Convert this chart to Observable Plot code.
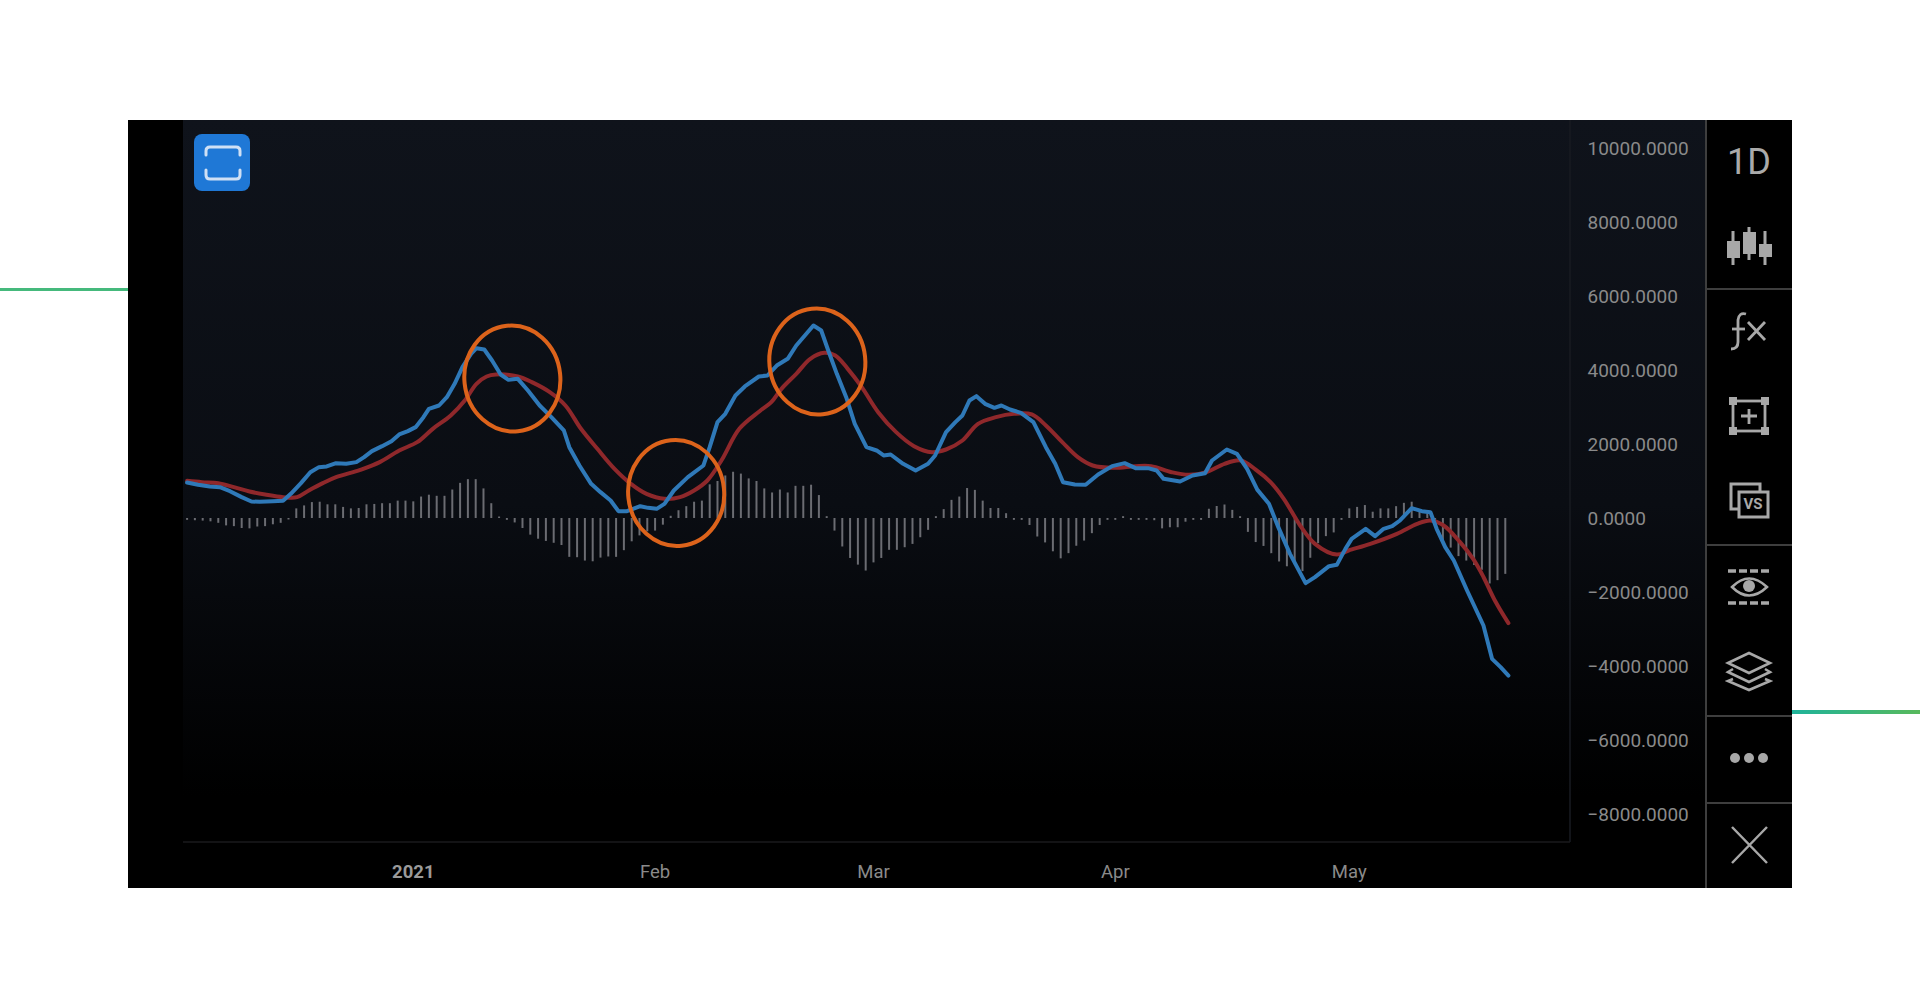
<!DOCTYPE html>
<html>
<head>
<meta charset="utf-8">
<script src="https://cdn.jsdelivr.net/npm/d3@7"></script>
<script src="https://cdn.jsdelivr.net/npm/@observablehq/plot@0.6"></script>
<style>
html,body{margin:0;padding:0;background:#fff;overflow:hidden;width:1920px;height:1008px;}
.box{position:absolute;}
#chart{position:absolute;left:0;top:0;}
#deco{position:absolute;left:0;top:0;pointer-events:none;}
</style>
</head>
<body>
<div class="box" style="left:0;top:288px;width:128px;height:3px;background:#45b97c"></div>
<div class="box" style="left:1792px;top:710px;width:128px;height:4px;background:linear-gradient(90deg,#1fb39a,#58b95c)"></div>
<div class="box" style="left:128px;top:120px;width:1664px;height:768px;background:#000"></div>
<div class="box" style="left:183px;top:120px;width:1523px;height:768px;background:linear-gradient(180deg,#0f131b 0%,#0a0d13 50%,#000 88%)"></div>
<div class="box" style="left:1706px;top:120px;width:86px;height:768px;background:#000"></div>
<div id="chart"></div>
<svg id="deco" width="1920" height="1008" xmlns="http://www.w3.org/2000/svg">
  <g stroke="#3e3e3e" stroke-width="2" fill="none">
    <line x1="1706" y1="120" x2="1706" y2="888"/>
    <line x1="1706" y1="289" x2="1792" y2="289"/>
    <line x1="1706" y1="545" x2="1792" y2="545"/>
    <line x1="1706" y1="716" x2="1792" y2="716"/>
    <line x1="1706" y1="803" x2="1792" y2="803"/>
  </g>
  <g stroke-width="1.5" fill="none">
    <line x1="1570" y1="120" x2="1570" y2="842" stroke="#181b22"/>
    <line x1="183" y1="842" x2="1570" y2="842" stroke="#1a1a1c"/>
  </g>
  <!-- capture button -->
  <rect x="194" y="134" width="56" height="57" rx="8" fill="#1f78d6"/>
  <path d="M206 155v-4q0-4 4-4h26q4 0 4 4v4M206 170v5q0 4 4 4h26q4 0 4-4v-5" fill="none" stroke="#cfe0f5" stroke-width="3" stroke-linecap="round"/>
  <!-- 1D -->
  <text x="1749" y="174" text-anchor="middle" font-family="Roboto" font-weight="400" font-size="36" fill="#aaaaaa">1D</text>
  <!-- candles -->
  <g fill="#a8a8a8" stroke="#a8a8a8">
    <line x1="1733" y1="231" x2="1733" y2="265" stroke-width="3"/><rect x="1727" y="241" width="13" height="17" stroke="none"/>
    <line x1="1749" y1="227" x2="1749" y2="260" stroke-width="3"/><rect x="1743" y="232" width="13" height="22" stroke="none"/>
    <line x1="1765" y1="231" x2="1765" y2="265" stroke-width="3"/><rect x="1759" y="244" width="13" height="13" stroke="none"/>
  </g>
  <!-- fx -->
  <path d="M1746 314q-7-2-8 6v22q0 7-7 7" fill="none" stroke="#a8a8a8" stroke-width="2.8"/>
  <line x1="1732" y1="329" x2="1745" y2="329" stroke="#a8a8a8" stroke-width="2.8"/>
  <path d="M1748 322l17 18M1765 322l-17 18" fill="none" stroke="#a8a8a8" stroke-width="2.8"/>
  <!-- box plus -->
  <g fill="#a8a8a8" stroke="none">
    <rect x="1729" y="397" width="8" height="8"/><rect x="1761" y="397" width="8" height="8"/><rect x="1729" y="427" width="8" height="8"/><rect x="1761" y="427" width="8" height="8"/>
  </g>
  <rect x="1733" y="401" width="32" height="30" fill="none" stroke="#a8a8a8" stroke-width="2.8"/>
  <path d="M1749 409v15M1741 416h16" stroke="#a8a8a8" stroke-width="2.8"/>
  <!-- VS -->
  <rect x="1731" y="484" width="29" height="25" fill="none" stroke="#a8a8a8" stroke-width="3"/>
  <rect x="1739" y="492" width="29" height="25" fill="#000" stroke="#a8a8a8" stroke-width="3"/>
  <text x="1753" y="509" text-anchor="middle" font-family="Roboto" font-weight="700" font-size="15" fill="#a8a8a8">VS</text>
  <!-- eye -->
  <path d="M1728 571h42M1728 603h42" stroke="#a8a8a8" stroke-width="3.5" stroke-dasharray="8 3"/>
  <path d="M1732 587q17-17 35 0q-18 17-35 0z" fill="none" stroke="#a8a8a8" stroke-width="2.5"/>
  <circle cx="1749" cy="586" r="6" fill="#a8a8a8"/>
  <!-- layers -->
  <g fill="none" stroke="#a8a8a8" stroke-width="2.6">
    <path d="M1728 663l21-10l21 10l-21 10z"/>
    <path d="M1733 669l-5 3l21 10l21-10l-5-3"/>
    <path d="M1733 679l-5 2l21 9l21-9l-5-2"/>
  </g>
  <!-- dots -->
  <circle cx="1735" cy="758" r="5" fill="#a8a8a8"/><circle cx="1749" cy="758" r="5" fill="#a8a8a8"/><circle cx="1763" cy="758" r="5" fill="#a8a8a8"/>
  <!-- close -->
  <path d="M1732 827l35 36M1767 827l-35 36" stroke="#a8a8a8" stroke-width="2.5"/>
</svg>
<script>
const startDay = Date.UTC(2020, 11, 3);
const dayToDate = d => new Date(startDay + d * 864e5);

const yTicks = [10000, 8000, 6000, 4000, 2000, 0, -2000, -4000, -6000, -8000];
const yDomain = [-8757, 10757];
const xDomainDays = [-0.46, 177.36];
const yearTick = [new Date(Date.UTC(2021, 0, 1))];
const monthTicks = [new Date(Date.UTC(2021, 1, 1)), new Date(Date.UTC(2021, 2, 1)), new Date(Date.UTC(2021, 3, 1)), new Date(Date.UTC(2021, 4, 1))];

// Histogram, one value per daily bar from the first bar
const histValues = [
  -50,-60,-70,-90,-130,-200,-220,-270,-280,-230,-220,-170,-130,-40,260,340,430,440,370,370,
  300,260,270,370,380,400,400,470,470,450,580,630,600,600,770,950,1050,1050,800,400,
  40,-50,-120,-270,-450,-560,-620,-670,-730,-1050,-1060,-1150,-1170,-1070,-1040,-1050,-870,-630,-470,-360,
  -340,-180,60,210,320,440,470,910,1000,1150,1250,1200,1070,1000,800,690,770,690,870,870,
  900,620,50,-340,-770,-1080,-1260,-1420,-1200,-1080,-860,-860,-790,-700,-520,-320,50,240,490,580,
  810,760,470,270,270,130,-50,-50,-190,-500,-660,-900,-1090,-950,-750,-610,-410,-190,-50,-50,
  50,-50,-50,-50,-60,-280,-250,-250,-100,-50,-50,250,325,365,220,50,-375,-650,-755,-950,
  -1175,-1305,-1250,-1435,-1075,-680,-490,-390,-50,260,300,350,170,260,260,320,410,440,170,120,
  -100,-610,-800,-1030,-1150,-1270,-1400,-1770,-1680,-1510
];

// MACD line, blue: day from the first bar, then value
const macdDays = [
  0,1.4,2.9,4.2,5.5,7,8.25,9.3,11,12.3,13.3,14.6,15.8,16.9,17.9,19.1,20.4,21.7,22.7,23.7,
  25,26.2,27.2,28.3,29.3,30.3,31,32.3,33.3,34.3,35.3,36.4,37.1,38.1,39.1,40.2,41.2,42.4,43.7,45.2,
  46.7,48.3,49,50.3,51.8,53,54.3,55.3,56.4,58.1,59.1,60.2,61.2,62.4,64.2,66.2,67,68,69,70.3,
  71.5,73.3,74.4,75.6,77,78.1,79.2,80.3,81.3,82.2,83.3,84.5,85.6,87.1,88.4,89.3,90.2,91.8,93.4,95,
  95.9,97.3,98.5,99.4,100.3,101.2,102.3,103.5,104.4,105.5,106.9,108.5,110.1,111.3,112.3,113.8,115.2,116.8,118.6,120.2,
  121.6,123.2,124.3,125.2,127.3,128.9,130.5,131.4,133.3,134.6,135.9,137.2,138.7,139.9,141.4,143.4,144.6,146.4,147.4,148.5,
  149.3,151.1,152.3,153.4,154.5,155.5,157,158.3,159.4,160.2,161.3,162.4,164.1,166.2,167.3,168.4,169.4
];
const macdValues = [
  973,910,865,847,739,577,460,450,468,478,667,955,1252,1388,1406,1496,1478,1523,1658,1820,
  1955,2090,2271,2361,2469,2739,2964,3054,3280,3640,4090,4451,4604,4568,4271,3892,3748,3775,3460,3054,
  2739,2379,1928,1433,937,712,487,198,198,333,288,261,396,757,1117,1433,1928,2604,2829,3325,
  3568,3838,3865,4135,4316,4676,4946,5217,5082,4541,3910,3280,2559,1928,1838,1703,1730,1478,1297,1478,
  1703,2334,2604,2784,3190,3307,3099,2991,3054,2946,2856,2604,1928,1478,982,919,910,1189,1415,1496,
  1360,1360,1297,1072,1000,1162,1225,1568,1865,1748,1340,780,400,-234,-955,-1748,-1586,-1288,-1252,-820,
  -550,-279,-478,-279,-207,-54,279,198,171,-279,-775,-1135,-1946,-2892,-3793,-4018,-4244
];

// Signal line, dark red
const signalDays = [
  0,1.9,4,6,8,10,12.3,14.1,15.6,17.4,19.1,22.2,24.7,27.2,29.5,31.5,33.8,35.6,37.1,38.4,
  39.6,42.4,44.2,46.5,48.5,50.5,52.6,54.8,56.9,58.9,61.2,63.2,65,66.7,68.5,70.8,73.4,74.9,76.2,78.1,
  79.9,81.7,83.1,84.7,86.5,88.6,90.9,93.2,95.5,97.3,99.4,101.4,103.7,106,108.3,110.1,112.2,114.2,116.1,118.8,
  121.6,123.6,126.2,128.4,130.7,133,135.1,137,138.9,140.6,142.7,144.6,147.4,148.9,151.7,155.1,157.7,159.4,161.1,163.2,
  164.9,166.2,167.7,169.4
];
const signalValues = [
  1018,982,955,847,730,649,577,577,757,955,1117,1315,1523,1838,2063,2424,2784,3190,3640,3838,
  3892,3838,3685,3415,3054,2424,1883,1342,937,667,532,577,757,1027,1568,2424,2900,3145,3505,3910,
  4316,4478,4406,4045,3550,2874,2334,1955,1793,1865,2108,2559,2739,2829,2811,2514,2063,1658,1433,1369,
  1415,1415,1252,1180,1252,1478,1568,1320,982,532,-189,-685,-973,-865,-685,-414,-144,-54,-189,-640,
  -1100,-1580,-2230,-2829
];

// Orange highlight circles
const circleDays = [41.7, 62.7, 80.8];
const circleValues = [3784, 690, 4244];

const hist = histValues.map((v, i) => ({date: dayToDate(i), v}));
const macd = macdValues.map((v, i) => ({date: dayToDate(macdDays[i]), v}));
const signal = signalValues.map((v, i) => ({date: dayToDate(signalDays[i]), v}));
const circles = circleValues.map((v, i) => ({date: dayToDate(circleDays[i]), v}));

const ellipse = {
  draw(ctx, size) {
    const r = Math.sqrt(size / Math.PI), rx = r * 0.95, ry = r * 1.05, k = 0.5523;
    ctx.moveTo(rx, 0);
    ctx.bezierCurveTo(rx, k * ry, k * rx, ry, 0, ry);
    ctx.bezierCurveTo(-k * rx, ry, -rx, k * ry, -rx, 0);
    ctx.bezierCurveTo(-rx, -k * ry, -k * rx, -ry, 0, -ry);
    ctx.bezierCurveTo(k * rx, -ry, rx, -k * ry, rx, 0);
    ctx.closePath();
  }
};

const monthFormat = d3.utcFormat("%b");
const chart = Plot.plot({
  width: 1920,
  height: 1008,
  marginLeft: 183,
  marginRight: 350,
  marginTop: 120,
  marginBottom: 166,
  style: {background: "transparent", fontFamily: "Roboto"},
  x: {type: "utc", domain: xDomainDays.map(dayToDate)},
  y: {domain: yDomain},
  marks: [
    Plot.ruleX(hist, {x: "date", y1: 0, y2: "v", stroke: "#6b6c72", strokeWidth: 2}),
    Plot.line(signal, {x: "date", y: "v", stroke: "#8f282b", strokeWidth: 4, curve: "catmull-rom"}),
    Plot.line(macd, {x: "date", y: "v", stroke: "#2f79b8", strokeWidth: 4, strokeLinejoin: "round"}),
    Plot.dot(circles, {x: "date", y: "v", r: 50.5, symbol: ellipse, rotate: -6, fill: "none", stroke: "#dc631b", strokeWidth: 4}),
    Plot.axisY({anchor: "right", ticks: yTicks, tickSize: 0, tickPadding: 17, textAnchor: "start", label: null,
      tickFormat: d3.format(".4f"), fill: "#8a8a8a", fontSize: 19}),
    Plot.axisX({anchor: "bottom", ticks: yearTick, tickSize: 0, tickPadding: 22, label: null,
      tickFormat: d => "2021", fill: "#9a9a9a", fontSize: 18.5, fontWeight: 700}),
    Plot.axisX({anchor: "bottom", ticks: monthTicks, tickSize: 0, tickPadding: 22, label: null,
      tickFormat: monthFormat, fill: "#8a8a8a", fontSize: 18.5})
  ]
});
document.getElementById("chart").appendChild(chart);
</script>
</body>
</html>
